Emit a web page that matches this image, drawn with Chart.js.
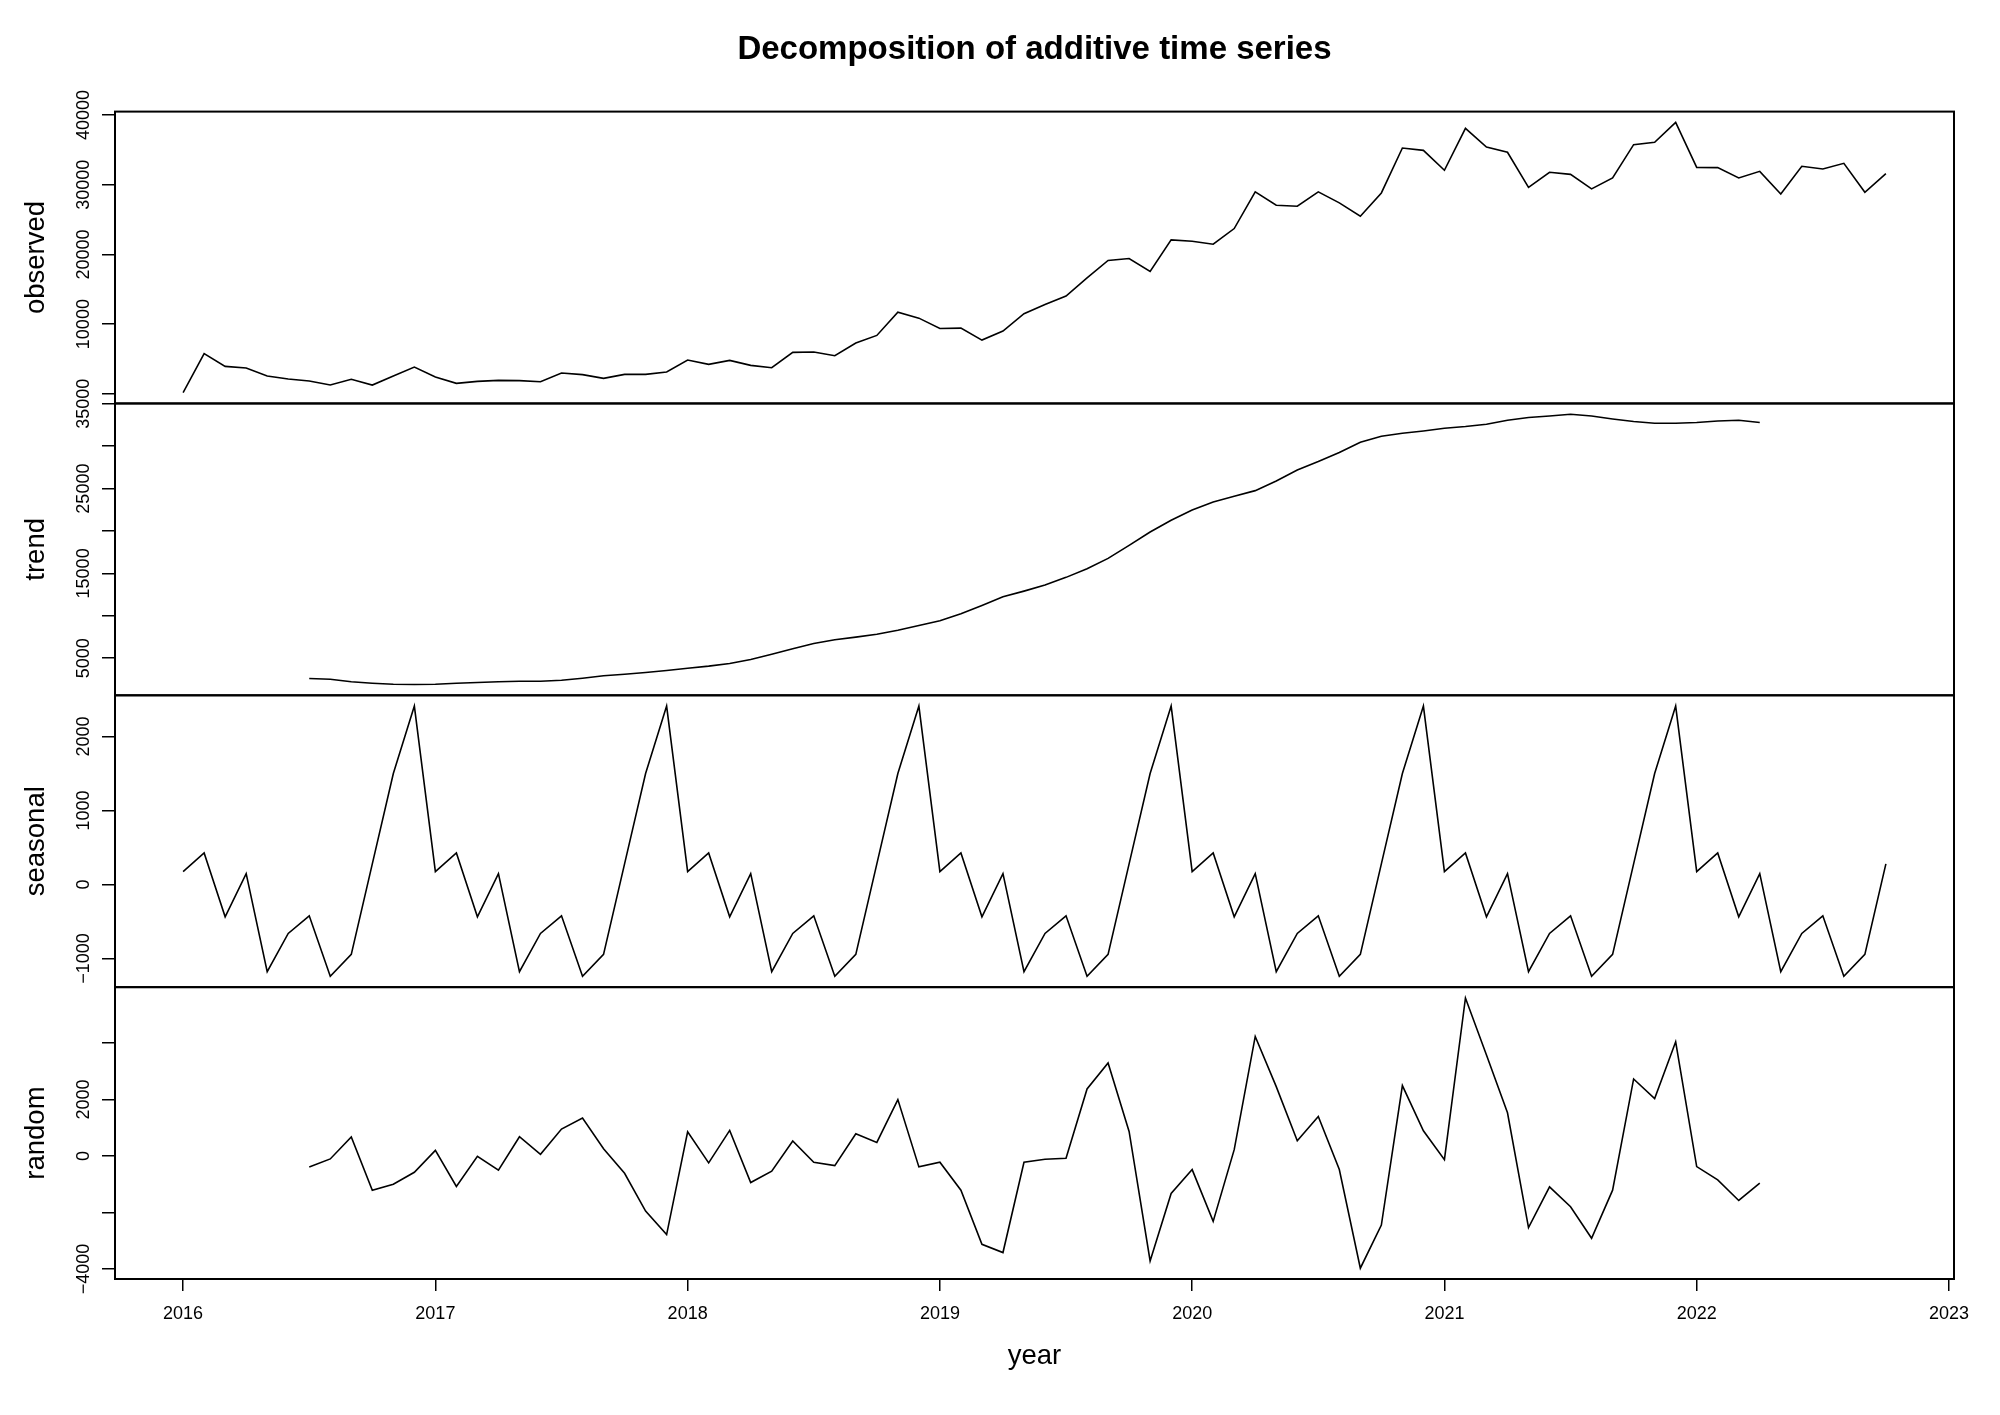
<!DOCTYPE html>
<html>
<head>
<meta charset="utf-8">
<title>Decomposition of additive time series</title>
<script src="https://cdn.jsdelivr.net/npm/chart.js@4.4.1/dist/chart.umd.min.js"></script>
<style>
  html, body { margin: 0; padding: 0; background: #fff; }
  #wrap { width: 2000px; height: 1415px; }
</style>
</head>
<body>
<div id="wrap"><canvas id="chart" width="2000" height="1415"></canvas></div>
<script>
// monthly series, Jan 2016 .. Oct 2022
const startYear = 2016;
const monthsPerYear = 12;

const observed = [
  170, 5760, 3940, 3700, 2550, 2120, 1840, 1260, 2080, 1260, 2550, 3840,
  2410, 1500, 1790, 1930, 1890, 1740, 2980, 2750, 2220, 2790, 2790, 3130,
  4850, 4230, 4800, 4080, 3750, 5950, 5990, 5470, 7280, 8380, 11720, 10860,
  9380, 9420, 7710, 9000, 11490, 12820, 14020, 16640, 19130, 19410, 17550, 22090,
  21900, 21460, 23710, 28970, 27050, 26910, 28970, 27390, 25480, 28820, 35270, 34930,
  32070, 38080, 35410, 34650, 29630, 31780, 31490, 29400, 30970, 35750, 36080, 38940,
  32490, 32450, 30970, 31920, 28680, 32640, 32260, 33070, 28910, 31590
];

const trend = [
  null, null, null, null, null, null, 2600, 2520, 2210, 2050, 1930, 1895,
  1930, 2050, 2130, 2210, 2285, 2285, 2400, 2640, 2920, 3110, 3310, 3550,
  3820, 4060, 4370, 4850, 5470, 6110, 6740, 7170, 7480, 7830, 8300, 8860,
  9410, 10240, 11220, 12250, 12910, 13620, 14530, 15550, 16770, 18300, 19880, 21260,
  22470, 23420, 24090, 24760, 25900, 27200, 28190, 29250, 30470, 31170, 31530, 31800,
  32120, 32320, 32590, 33060, 33380, 33570, 33770, 33570, 33220, 32910, 32710, 32710,
  32790, 32980, 33060, 32790, null, null, null, null, null, null
];

const seasonal = [
  175, 427, -435, 148, -1177, -660, -422, -1240, -943, 280, 1501, 2412,
  175, 427, -435, 148, -1177, -660, -422, -1240, -943, 280, 1501, 2412,
  175, 427, -435, 148, -1177, -660, -422, -1240, -943, 280, 1501, 2412,
  175, 427, -435, 148, -1177, -660, -422, -1240, -943, 280, 1501, 2412,
  175, 427, -435, 148, -1177, -660, -422, -1240, -943, 280, 1501, 2412,
  175, 427, -435, 148, -1177, -660, -422, -1240, -943, 280, 1501, 2412,
  175, 427, -435, 148, -1177, -660, -422, -1240, -943, 280
];

const random = [
  null, null, null, null, null, null, -388, -106, 670, -1213, -1000, -578,
  198, -1083, -14, -507, 680, 57, 952, 1340, 257, -613, -1953, -2787,
  857, -247, 903, -941, -542, 529, -224, -342, 787, 480, 1996, -388,
  -224, -1213, -3128, -3421, -224, -119, -83, 2374, 3291, 868, -3717, -1330,
  -483, -2317, 222, 4232, 2455, 540, 1397, -483, -3975, -2448, 2490, 892,
  -130, 5594, 3573, 1527, -2539, -1093, -1799, -2917, -1213, 2726, 2032, 4042,
  -377, -847, -1577, -966, null, null, null, null, null, null
];

// axis ticks (an empty label means tick mark only)
const yearTicks = [2016, 2017, 2018, 2019, 2020, 2021, 2022, 2023];
const yearLabels = ['2016', '2017', '2018', '2019', '2020', '2021', '2022', '2023'];
const observedTicks = [0, 10000, 20000, 30000, 40000];
const observedTickLabels = ['', '10000', '20000', '30000', '40000'];
const trendTicks = [5000, 10000, 15000, 20000, 25000, 30000, 35000];
const trendTickLabels = ['5000', '', '15000', '', '25000', '', '35000'];
const seasonalTicks = [-1000, 0, 1000, 2000];
const seasonalTickLabels = ['\u22121000', '0', '1000', '2000'];
const randomTicks = [-4000, -2000, 0, 2000, 4000];
const randomTickLabels = ['\u22124000', '', '0', '2000', ''];

const FONT = "'Liberation Sans', Arial, Helvetica, sans-serif";
Chart.defaults.font.family = FONT;
Chart.defaults.color = '#000';

const times = observed.map((_, i) => startYear + i / monthsPerYear);

const panels = [
  { id: 'yObs', title: 'observed', values: observed, ticks: observedTicks, labels: observedTickLabels },
  { id: 'yTrend', title: 'trend', values: trend, ticks: trendTicks, labels: trendTickLabels },
  { id: 'ySeas', title: 'seasonal', values: seasonal, ticks: seasonalTicks, labels: seasonalTickLabels },
  { id: 'yRand', title: 'random', values: random, ticks: randomTicks, labels: randomTickLabels }
];

// R style range: data range stretched by 4% on each side
function paddedRange(arr) {
  const v = arr.filter(x => x !== null);
  const lo = Math.min(...v), hi = Math.max(...v);
  const pad = (hi - lo) * 0.04;
  return [lo - pad, hi + pad];
}

const scales = {
  x: {
    type: 'linear',
    position: 'bottom',
    min: times[0] - (times[times.length - 1] - times[0]) * 0.04,
    max: times[times.length - 1] + (times[times.length - 1] - times[0]) * 0.04,
    afterBuildTicks: s => { s.ticks = yearTicks.map(v => ({ value: v })); },
    afterFit: s => { s.height = 136; },
    border: { display: false },
    grid: { drawOnChartArea: false, drawTicks: true, tickLength: 12, color: '#000', lineWidth: 1.5 },
    ticks: {
      autoSkip: false,
      maxRotation: 0,
      padding: 12,
      font: { size: 18 },
      callback: (v, i) => yearLabels[i]
    },
    title: { display: true, text: 'year', font: { size: 27.5 }, padding: { top: 0, bottom: 42 } }
  }
};

panels.forEach((p, idx) => {
  const [lo, hi] = paddedRange(p.values);
  scales[p.id] = {
    type: 'linear',
    position: 'left',
    stack: 'panels',
    stackWeight: 1,
    weight: panels.length - idx,
    min: lo,
    max: hi,
    afterBuildTicks: s => { s.ticks = p.ticks.map(v => ({ value: v })); },
    afterFit: s => { s.width = 115; },
    border: { display: false },
    grid: { drawOnChartArea: false, drawTicks: true, tickLength: 13, color: '#000', lineWidth: 1.5 },
    ticks: { display: false },
    title: { display: true, text: p.title, font: { size: 27.5 }, padding: { top: 20, bottom: 0 } }
  };
});

// rotated tick labels, R style
const yTickText = {
  id: 'yTickText',
  afterDraw(chart) {
    const ctx = chart.ctx;
    const x = chart.chartArea.left - 26;
    ctx.save();
    ctx.fillStyle = '#000';
    ctx.font = '18px ' + FONT;
    ctx.textAlign = 'center';
    ctx.textBaseline = 'alphabetic';
    panels.forEach(p => {
      const scale = chart.scales[p.id];
      p.ticks.forEach((v, i) => {
        if (!p.labels[i]) return;
        ctx.save();
        ctx.translate(x, scale.getPixelForValue(v));
        ctx.rotate(-Math.PI / 2);
        ctx.fillText(p.labels[i], 0, 0);
        ctx.restore();
      });
    });
    ctx.restore();
  }
};

// box around every panel
const panelBoxes = {
  id: 'panelBoxes',
  afterDatasetsDraw(chart) {
    const { ctx, chartArea } = chart;
    ctx.save();
    ctx.strokeStyle = '#000';
    ctx.lineWidth = 2;
    panels.forEach(p => {
      const s = chart.scales[p.id];
      ctx.strokeRect(chartArea.left, s.top, chartArea.right - chartArea.left, s.bottom - s.top);
    });
    ctx.restore();
  }
};

new Chart(document.getElementById('chart'), {
  type: 'line',
  data: {
    datasets: panels.map(p => ({
      label: p.title,
      yAxisID: p.id,
      data: p.values.map((v, i) => ({ x: times[i], y: v })),
      borderColor: '#000',
      borderWidth: 1.6,
      pointRadius: 0,
      tension: 0,
      fill: false,
      spanGaps: false
    }))
  },
  options: {
    responsive: false,
    animation: false,
    devicePixelRatio: 1,
    layout: { padding: { left: 0, right: 46, top: 0, bottom: 0 } },
    plugins: {
      legend: { display: false },
      tooltip: { enabled: false },
      title: {
        display: true,
        fullSize: false,
        text: 'Decomposition of additive time series',
        color: '#000',
        font: { size: 33, weight: 'bold' },
        padding: { top: 30, bottom: 42 }
      }
    },
    scales: scales
  },
  plugins: [panelBoxes, yTickText]
});
</script>
</body>
</html>
